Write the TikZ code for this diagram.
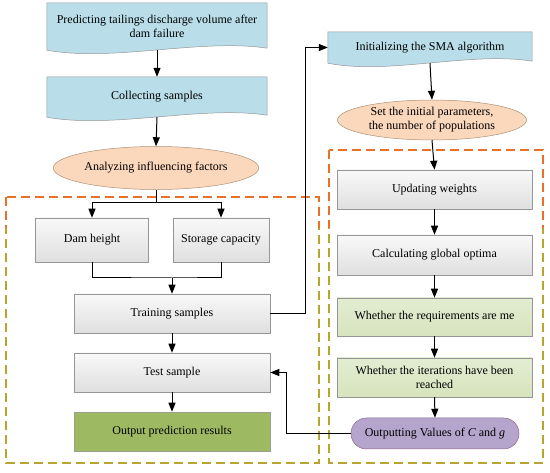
\documentclass[tikz,border=0pt]{standalone}
\usepackage{fontspec}
\setmainfont{Liberation Serif}
\usetikzlibrary{shapes.geometric,arrows.meta,calc}
\definecolor{docblue}{RGB}{185,222,234}
\definecolor{peach}{RGB}{251,215,188}
\definecolor{boxline}{RGB}{150,150,150}
\definecolor{darkgreen}{RGB}{157,186,99}
\definecolor{lightgreen}{RGB}{215,228,190}
\definecolor{lilac}{RGB}{181,164,204}
\definecolor{dashorange}{RGB}{232,112,40}
\definecolor{dasholive}{RGB}{184,164,48}
\pgfdeclarelayer{bg}
\pgfsetlayers{bg,main}
\newcommand\wavedoc[1]{%
  \path[doc] (#1.north west) -- (#1.north east) -- ($(#1.south east)+(0,-2)$)
    .. controls ($(#1.south west)!0.7!(#1.south east)+(0,-12)$) and ($(#1.south west)!0.3!(#1.south east)+(0,12)$) .. (#1.south west) -- cycle;}
\begin{document}
\begin{tikzpicture}[x=1pt,y=-1pt,font=\fontsize{12}{14}\selectfont,every node/.style={inner sep=1pt,align=center}]
\tikzstyle{arrow}=[draw,line width=1pt,-{Triangle[length=9pt,width=7pt]}]
\tikzstyle{line}=[draw,line width=1pt]
\tikzstyle{doc}=[fill=docblue,draw=boxline,line width=0.5pt]
\tikzstyle{oval}=[ellipse,fill=peach,draw=boxline!80!orange,line width=0.5pt]
\tikzstyle{grey}=[rectangle,top color=gray!5,bottom color=gray!25,draw=boxline,line width=0.5pt]
\tikzstyle{frame}=[line width=1.4pt,dash pattern=on 9pt off 5pt]
\useasboundingbox (0,0) rectangle (550,473);

\draw[frame,dasholive] (6,197) rectangle (319,463);
\draw[frame,dasholive] (329,150) rectangle (543,463);
\begin{scope}
\clip (0,0) rectangle (550,228);
\draw[frame,dashorange] (6,197) rectangle (319,463);
\draw[frame,dashorange] (329,150) rectangle (543,463);
\end{scope}

\node[minimum width=220,minimum height=47](l1) at (157,26.5){Predicting tailings discharge volume after\\dam failure};
\node[minimum width=220,minimum height=40](l2) at (157,97){Collecting samples};
\node[oval,minimum width=204,minimum height=43](l3) at (156,168){Analyzing influencing factors};
\node[grey,minimum width=113,minimum height=44](l4) at (92,240){Dam height};
\node[grey,minimum width=96,minimum height=44](l5) at (221,240){Storage capacity};
\node[grey,minimum width=196,minimum height=39](l6) at (172,313.5){Training samples};
\node[grey,minimum width=196,minimum height=39](l7) at (172,372.5){Test sample};
\node[rectangle,fill=darkgreen,draw=boxline!70!darkgreen,line width=0.5pt,minimum width=196,minimum height=39](l8) at (172,431.5){Output prediction results};

\node[minimum width=204,minimum height=31](r1) at (430,47.5){Initializing the SMA algorithm};
\node[oval,minimum width=189,minimum height=40,inner sep=0pt](r2) at (432,120){Set the initial parameters,\\the number of populations};
\node[grey,minimum width=195,minimum height=39](r3) at (434.5,189.5){Updating weights};
\node[grey,minimum width=195,minimum height=40](r4) at (434.5,255){Calculating global optima};
\node[grey,top color=lightgreen!70,bottom color=lightgreen,minimum width=195,minimum height=38](r5) at (434.5,317){Whether the requirements are me};
\node[grey,top color=lightgreen!70,bottom color=lightgreen,minimum width=195,minimum height=39](r6) at (434.5,377.5){Whether the iterations have been\\reached};
\node[rectangle,rounded corners=15.5,fill=lilac,draw=boxline!70!violet,line width=0.5pt,minimum width=168,minimum height=31](r7) at (435,433.5){Outputting Values of \textit{C} and \textit{g}};

\begin{pgfonlayer}{bg}
\wavedoc{l1}
\wavedoc{l2}
\wavedoc{r1}
\end{pgfonlayer}

\coordinate(s1) at (156,203);
\coordinate(s2) at (172,278);

\path[arrow](l1.south)--(l2.north);
\path[arrow](l2.south)--(l3.north);
\path[line](l3.south)--(s1);
\path[arrow](s1)-|(l4.north);
\path[arrow](s1)-|(l5.north);
\path[line](l4.south)|-(s2)-|(l5.south);
\path[arrow](s2)--(l6.north);
\path[arrow](l6.south)--(l7.north);
\path[arrow](l7.south)--(l8.north);

\path[arrow](l6.east)--++(35,0)|-(r1.west);
\path[arrow](r1.south)--(r2.north);
\path[arrow](r2.south)--(r3.north);
\path[arrow](r3.south)--(r4.north);
\path[arrow](r4.south)--(r5.north);
\path[arrow](r5.south)--(r6.north);
\path[arrow](r6.south)--(r7.north);
\path[arrow](r7.west)--++(-64,0)|-(l7.east);
\end{tikzpicture}
\end{document}
